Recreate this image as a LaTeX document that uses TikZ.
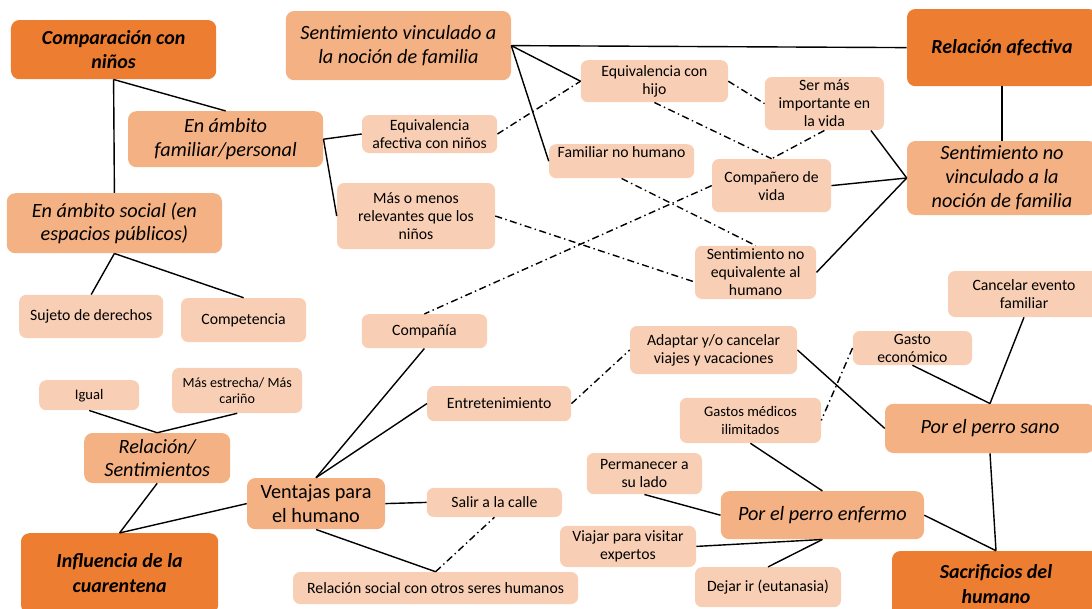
\documentclass[tikz,border=0pt]{standalone}
\usepackage{fontspec}
\setmainfont{Carlito}
\usepackage{xcolor}
\usepackage{tikz}

\definecolor{orangeDark}{HTML}{ED7D31}
\definecolor{orangeMid}{HTML}{F4B183}
\definecolor{orangeLight}{HTML}{F8CFB4}

\begin{document}
\begin{tikzpicture}[
    topic/.style={rectangle, rounded corners=6pt, fill=orangeDark, align=center, inner sep=1pt, font=\fontsize{14.2}{17.7}\selectfont\bfseries\itshape},
    subtopic/.style={rectangle, rounded corners=6pt, fill=orangeMid, align=center, inner sep=1pt, font=\fontsize{14.4}{17}\selectfont\itshape},
    item/.style={rectangle, rounded corners=5pt, fill=orangeLight, align=center, inner sep=1pt, font=\fontsize{11.2}{12.8}\selectfont},
    link/.style={line width=1pt},
    dlink/.style={line width=1pt, dash pattern=on 5pt off 2.5pt on 1pt off 2.5pt}
]
\path[use as bounding box] (0,0) rectangle (27.3,-15.2);

% =====================
% Main topics
% =====================
\node[topic, minimum width=5.13cm, minimum height=1.48cm] (comp) at (2.84,-1.24) {Comparación con\\niños};
\node[topic, minimum width=4.75cm, minimum height=1.93cm] (relaf) at (25.05,-1.19) {Relación afectiva};
\node[topic, minimum width=4.93cm, minimum height=2.0cm] (influ) at (2.99,-14.33) {Influencia de la\\cuarentena};
\node[topic, minimum width=5.2cm, minimum height=1.65cm] (sacrif) at (24.9,-14.6) {Sacrificios del\\humano};

% =====================
% Subtopics
% =====================
\node[subtopic, minimum width=5.63cm, minimum height=1.73cm] (sentvinc) at (9.96,-1.14) {Sentimiento vinculado a\\la noción de familia};
\node[subtopic, minimum width=4.88cm, minimum height=1.4cm] (familiar) at (5.64,-3.48) {En ámbito\\familiar/personal};
\node[subtopic, minimum width=5.38cm, minimum height=1.5cm] (social) at (2.86,-5.58) {En ámbito social (en\\espacios públicos)};
\node[subtopic, minimum width=4.75cm, minimum height=1.85cm] (sentnovinc) at (25.05,-4.45) {Sentimiento no\\vinculado a la\\noción de familia};
\node[subtopic, minimum width=3.65cm, minimum height=1.25cm] (relsent) at (3.93,-11.45) {Relación/\\Sentimientos};
\node[subtopic, minimum width=3.45cm, minimum height=1.28cm, font=\fontsize{14.4}{16.5}\selectfont] (ventajas) at (7.9,-12.59) {Ventajas para\\el humano};
\node[subtopic, minimum width=5.25cm, minimum height=1.23cm] (perrosano) at (24.75,-10.71) {Por el perro sano};
\node[subtopic, minimum width=5.08cm, minimum height=1.2cm] (perroenf) at (20.56,-12.88) {Por el perro enfermo};

% =====================
% Items
% =====================
\node[item, minimum width=3.38cm, minimum height=0.95cm] (equivaf) at (10.74,-3.35) {Equivalencia\\afectiva con niños};
\node[item, minimum width=3.95cm, minimum height=1.65cm] (masmenos) at (10.4,-5.4) {Más o menos\\relevantes que los\\niños};
\node[item, minimum width=3.6cm, minimum height=1.08cm] (sujeto) at (2.28,-7.91) {Sujeto de derechos};
\node[item, minimum width=3.13cm, minimum height=1.1cm] (compet) at (6.09,-8.0) {Competencia};
\node[item, minimum width=3.68cm, minimum height=1.05cm] (equivhijo) at (16.36,-2.03) {Equivalencia con\\hijo};
\node[item, minimum width=2.98cm, minimum height=1.33cm] (sermas) at (20.61,-2.59) {Ser más\\importante en\\la vida};
\node[item, minimum width=3.63cm, minimum height=0.85cm, text height=7pt, text depth=12pt] (famnohum) at (15.54,-4.03) {Familiar no humano};
\node[item, minimum width=2.98cm, minimum height=1.33cm] (compan) at (19.29,-4.64) {Compañero de\\vida};
\node[item, minimum width=3.03cm, minimum height=1.33cm] (sentnoeq) at (18.89,-6.81) {Sentimiento no\\equivalente al\\humano};
\node[item, minimum width=3.8cm, minimum height=1.15cm] (cancelar) at (25.6,-7.35) {Cancelar evento\\familiar};
\node[item, minimum width=2.98cm, minimum height=0.85cm] (gastoec) at (22.81,-8.7) {Gasto\\económico};
\node[item, minimum width=4.18cm, minimum height=1.2cm] (adaptar) at (17.84,-8.75) {Adaptar y/o cancelar\\viajes y vacaciones};
\node[item, minimum width=3.53cm, minimum height=1.13cm, font=\fontsize{10.4}{12.8}\selectfont] (gastosmed) at (18.76,-10.51) {Gastos médicos\\ilimitados};
\node[item, minimum width=2.88cm, minimum height=1.03cm] (permanecer) at (16.11,-11.84) {Permanecer a\\su lado};
\node[item, minimum width=3.4cm, minimum height=1.03cm] (viajar) at (15.7,-13.66) {Viajar para visitar\\expertos};
\node[item, minimum width=3.65cm, minimum height=1.0cm] (dejar) at (19.2,-14.68) {Dejar ir (eutanasia)};
\node[item, minimum width=2.5cm, minimum height=0.75cm, font=\fontsize{10.4}{12}\selectfont] (igual) at (2.23,-9.88) {Igual};
\node[item, minimum width=3.25cm, minimum height=1.13cm, font=\fontsize{10}{11.6}\selectfont] (masestr) at (5.93,-9.76) {Más estrecha/ Más\\cariño};
\node[item, minimum width=3.13cm, minimum height=0.85cm] (compania) at (10.61,-8.28) {Compañía};
\node[item, minimum width=3.6cm, minimum height=0.88cm] (entret) at (12.48,-10.09) {Entretenimiento};
\node[item, minimum width=3.38cm, minimum height=0.73cm] (salir) at (12.36,-12.56) {Salir a la calle};
\node[item, minimum width=7.13cm, minimum height=0.8cm] (relsocial) at (10.89,-14.7) {Relación social con otros seres humanos};

% =====================
% Solid links
% =====================
\draw[link] (comp.south) -- (social.north);
\draw[link] (comp.south) -- (familiar.north);
\draw[link] (familiar.east) -- (equivaf.west);
\draw[link] (familiar.east) -- (masmenos.west);
\draw[link] (social.south) -- (sujeto.north);
\draw[link] (social.south) -- (compet.north);

\draw[link] (sentvinc.east) -- (relaf.west);
\draw[link] (sentvinc.east) -- (equivhijo.west);
\draw[link] (sentvinc.east) -- (famnohum.west);
\draw[link] (relaf.south) -- (sentnovinc.north);
\draw[link] (sermas.-30) -- (sentnovinc.west);
\draw[link] (compan.east) -- (sentnovinc.west);
\draw[link] (sentnoeq.east) -- (sentnovinc.west);

\draw[link] (igual.south) -- (relsent.north);
\draw[link] (masestr.south) -- (relsent.north);
\draw[link] (relsent.south) -- (influ.north);
\draw[link] (ventajas.west) -- (influ.north);
\draw[link] (ventajas.north) -- (compania.south);
\draw[link] (ventajas.north) -- (entret.west);
\draw[link] (ventajas.east) -- (salir.west);
\draw[link] (ventajas.south) -- (relsocial.north);

\draw[link] (gastoec.south) -- (perrosano.north);
\draw[link] (cancelar.south) -- (perrosano.north);
\draw[link] (adaptar.east) -- (perrosano.west);
\draw[link] (perrosano.south) -- (sacrif.north);
\draw[link] (gastosmed.south) -- (perroenf.north);
\draw[link] (permanecer.south) -- (perroenf.west);
\draw[link] (viajar.east) -- (perroenf.south);
\draw[link] (dejar.north) -- (perroenf.south);
\draw[link] (perroenf.east) -- (sacrif.north);

% =====================
% Dash-dot links
% =====================
\draw[dlink] (equivaf.east) -- (equivhijo.west);
\draw[dlink] (masmenos.east) -- (sentnoeq.-171);
\draw[dlink] (equivhijo.south) -- (compan.north);
\draw[dlink] (sermas.south) -- (compan.north);
\draw[dlink] (equivhijo.east) -- (sermas.west);
\draw[dlink] (famnohum.south) -- (sentnoeq.north);
\draw[dlink] (compan.west) -- (compania.north);
\draw[dlink] (entret.east) -- (adaptar.west);
\draw[dlink] (gastoec.west) -- (gastosmed.east);
\draw[dlink] (relsocial.north) -- (salir.south);

\end{tikzpicture}
\end{document}
